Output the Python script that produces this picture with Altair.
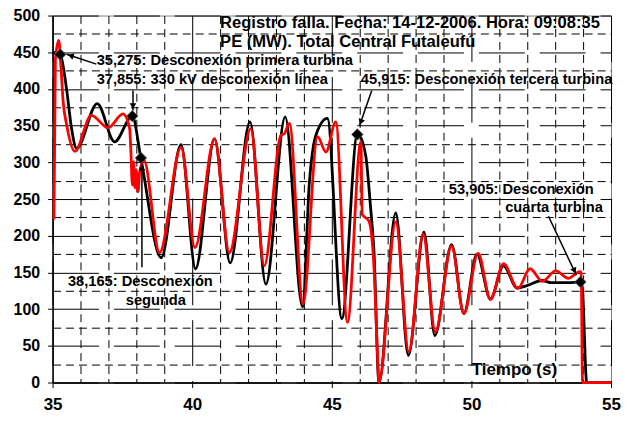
import altair as alt
import pandas as pd

# ---- series (time in s, power in MW) ----
black_t = [35.0, 35.275, 35.5, 35.68, 35.86, 36.6, 37.22, 37.855, 38.165, 38.89, 39.6, 40.12,
           40.8, 41.36, 42.07, 42.64, 43.33, 43.95, 44.2, 44.43, 44.84, 45.36, 45.92, 46.21,
           46.39, 46.51, 46.69, 47.29, 47.74, 48.3, 48.69, 49.29, 49.73, 50.2, 50.68, 51.15,
           51.63, 51.99, 52.52, 52.88, 53.47, 53.905, 53.97, 54.13, 55.0]
black_mw = [450, 447, 400, 346, 319, 380, 328, 363, 305, 170, 324, 155,
            332, 163, 355, 134, 362, 103, 274, 337, 360, 87, 339, 310,
            238, 179, 0, 231, 37, 205, 64, 188, 94, 175, 114, 159,
            129, 132, 139, 136, 136, 137, 130, 0, 0]

red_t = [35.05, 35.1, 35.22, 35.3, 35.38, 35.5, 35.8, 36.39, 36.99, 37.52, 37.76, 37.8,
         37.86, 37.9, 37.95, 37.99, 38.06, 38.12, 38.27, 38.83, 39.6, 40.1, 40.8, 41.33,
         42.1, 42.58, 43.18, 43.3, 43.48, 43.97, 44.49, 44.79, 45.14, 45.56, 46.04, 46.09,
         46.33, 46.51, 46.63, 46.69, 47.29, 47.76, 48.27, 48.71, 49.29, 49.73, 50.24, 50.68,
         51.15, 51.66, 52.1, 52.54, 53.02, 53.47, 53.88, 53.93, 53.98, 55.0]
red_mw = [222, 440, 466, 430, 382, 352, 315, 364, 347, 366, 346, 319,
          269, 301, 265, 290, 260, 287, 303, 177, 320, 184, 332, 177,
          346, 159, 337, 339, 353, 107, 335, 314, 355, 82, 328, 229,
          220, 157, 44, 0, 219, 42, 202, 69, 186, 94, 176, 113,
          162, 128, 155, 138, 152, 142, 151, 150, 0, 0]

# ---- event markers ----
marker_t = [35.275, 37.855, 38.165, 45.915, 53.905]
marker_mw = [447, 363, 306, 338, 137]

# ---- annotation texts ----
note_text = ["35,275: Desconexión primera turbina", "37,855: 330 kV desconexión línea",
             "45,915: Desconexión tercera turbina", "53,905: Desconexión", "cuarta turbina",
             "38,165: Desconexión", "segunda"]
note_t = [36.58, 36.58, 46.04, 49.19, 51.21, 35.55, 37.62]
note_mw = [437.4, 412.4, 412.4, 261.8, 237.4, 137.4, 110.4]

title_lines = ["Registro falla. Fecha: 14-12-2006. Hora: 09:08:35",
               "PE (MW). Total Central Futaleufú"]
title_t = [41.0, 41.0]
title_mw = [490.0, 463.5]

xlabel_text = ["Tiempo (s)"]
xlabel_t = [50.01]
xlabel_mw = [16.5]

# ---- arrows ----
arrow_t = [36.57, 37.88, 38.2, 46.43, 52.76]
arrow_mw = [433.8, 397.8, 157.0, 397.8, 226.6]
arrow_t2 = [35.5, 37.88, 38.2, 45.99, 53.76]
arrow_mw2 = [447.3, 370.8, 298.0, 349.6, 146.0]
head_t = [35.65, 37.88, 38.2, 46.04, 53.69]
head_mw = [445.3, 376.6, 292.8, 355.0, 152.3]
head_angle = [288, 180, 0, 200, 155]

FONT = "Liberation Sans"

black_df = pd.DataFrame({"t": black_t, "mw": black_mw})
red_df = pd.DataFrame({"t": red_t, "mw": red_mw})
marker_df = pd.DataFrame({"t": marker_t, "mw": marker_mw})
note_df = pd.DataFrame({"t": note_t, "mw": note_mw, "txt": note_text})
title_df = pd.DataFrame({"t": title_t, "mw": title_mw, "txt": title_lines})
xlabel_df = pd.DataFrame({"t": xlabel_t, "mw": xlabel_mw, "txt": xlabel_text})
arrow_df = pd.DataFrame({"t": arrow_t, "mw": arrow_mw, "t2": arrow_t2, "mw2": arrow_mw2})
head_df = pd.DataFrame({"t": head_t, "mw": head_mw, "ang": head_angle})

xscale = alt.Scale(domain=[35, 55], nice=False, zero=False)
yscale = alt.Scale(domain=[0, 500], nice=False)

xaxis = alt.Axis(
    values=list(range(35, 56)), tickCount=100,
    labelExpr="datum.value % 5 === 0 ? datum.label : ''",
    format="d",
    grid=True, gridColor="black", gridWidth=1, gridOpacity=1,
    gridDash={"condition": {"test": "datum.value % 5 === 0", "value": [46, 15]}, "value": [8, 5]},
    tickSize={"condition": {"test": "datum.value % 5 === 0", "value": 5}, "value": 0},
    tickColor="black", domainColor="black", domainWidth=1.5,
    labelFont=FONT, labelFontWeight="bold", labelFontSize=17, labelColor="black",
    labelPadding=9, title=None, labelFlush=False, labelOverlap=False,
)
yaxis = alt.Axis(
    values=list(range(0, 501, 25)), tickCount=100,
    labelExpr="datum.value % 50 === 0 ? datum.label : ''",
    grid=True, gridColor="black", gridWidth=1, gridOpacity=1,
    gridDash={"condition": {"test": "datum.value % 50 === 0", "value": [46, 15]}, "value": [8, 5]},
    tickSize={"condition": {"test": "datum.value % 50 === 0", "value": 5}, "value": 0},
    tickColor="black", domainColor="black", domainWidth=1.5,
    labelFont=FONT, labelFontWeight="bold", labelFontSize=16, labelColor="black",
    labelPadding=8, title=None, labelOverlap=False, labelFlush=False,
)

black_line = alt.Chart(black_df).mark_line(color="black", strokeWidth=2.8, interpolate="monotone").encode(
    x=alt.X("t:Q", scale=xscale, axis=xaxis),
    y=alt.Y("mw:Q", scale=yscale, axis=yaxis),
)
red_line = alt.Chart(red_df).mark_line(color="#ff0000", strokeWidth=2.8, interpolate="monotone").encode(
    x="t:Q", y="mw:Q"
)
arrows = alt.Chart(arrow_df).mark_rule(color="black", strokeWidth=1.5).encode(
    x="t:Q", y="mw:Q", x2="t2:Q", y2="mw2:Q"
)
heads = alt.Chart(head_df).mark_point(shape="triangle-up", filled=True, color="black", size=45, opacity=1).encode(
    x="t:Q", y="mw:Q", angle=alt.Angle("ang:Q", scale=None)
)
markers = alt.Chart(marker_df).mark_point(shape="diamond", filled=True, color="black", size=130, opacity=1,
                                          stroke="#555555", strokeWidth=0.8).encode(
    x="t:Q", y="mw:Q"
)
notes = alt.Chart(note_df).mark_text(align="left", baseline="middle", font=FONT, fontWeight="bold",
                                      fontSize=14.7, color="black").encode(
    x="t:Q", y="mw:Q", text="txt:N"
)
titles = alt.Chart(title_df).mark_text(align="left", baseline="middle", font=FONT, fontWeight="bold",
                                       fontSize=16.6, color="black").encode(
    x="t:Q", y="mw:Q", text="txt:N"
)
xlabel = alt.Chart(xlabel_df).mark_text(align="left", baseline="middle", font=FONT, fontWeight="bold",
                                        fontSize=17, color="black").encode(
    x="t:Q", y="mw:Q", text="txt:N"
)

chart = alt.layer(black_line, red_line, arrows, heads, markers, notes, titles, xlabel).properties(
    width=560, height=368,
    padding={"left": 44.7, "top": 7, "right": 10, "bottom": 35},
    autosize=alt.AutoSizeParams(type="none"),
    background="white",
).configure_view(stroke="#808080", strokeWidth=1)

chart.save("out.html", embed_options={"renderer": "svg", "actions": False})
